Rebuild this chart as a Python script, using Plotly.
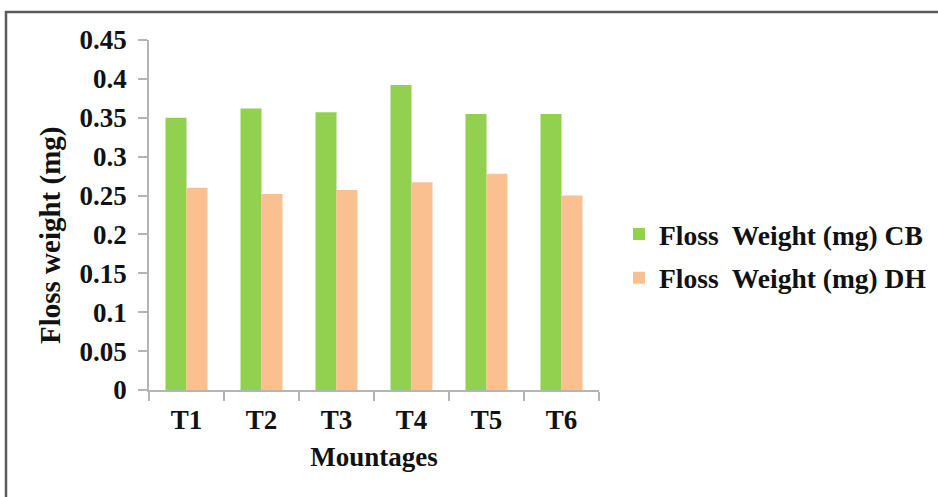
import plotly.graph_objects as go

# Mountage treatments and mean floss weight per treatment (mg)
mountages = ["T1", "T2", "T3", "T4", "T5", "T6"]
floss_cb = [0.350, 0.362, 0.357, 0.392, 0.355, 0.355]
floss_dh = [0.260, 0.252, 0.257, 0.267, 0.278, 0.250]
series_names = ["Floss\u00a0 Weight (mg) CB", "Floss\u00a0 Weight (mg) DH"]
y_ticks = [0, 0.05, 0.1, 0.15, 0.2, 0.25, 0.3, 0.35, 0.4, 0.45]
y_tick_text = ["0", "0.05", "0.1", "0.15", "0.2", "0.25", "0.3", "0.35", "0.4", "0.45"]

W, H = 938, 497
L, R, T, B = 149, 339, 40, 107
plot_w = W - L - R
plot_h = H - T - B


def px_x(px):
    return (px - L) / plot_w


def px_y(py):
    return (H - B - py) / plot_h


SERIF = "Liberation Serif, Times New Roman, serif"
axis_grey = "#b4b4b4"
ink = "#111111"

fig = go.Figure()
fig.add_trace(go.Bar(x=mountages, y=floss_cb, name=series_names[0],
                     marker=dict(color="#92d050", line=dict(width=0)),
                     legendgroup="cb"))
fig.add_trace(go.Bar(x=mountages, y=floss_dh, name=series_names[1],
                     marker=dict(color="#fac090", line=dict(width=0)),
                     legendgroup="dh"))

fig.update_layout(
    width=W, height=H,
    margin=dict(l=L, r=R, t=T, b=B, pad=0, autoexpand=False),
    paper_bgcolor="white", plot_bgcolor="white",
    barmode="group", bargap=0.44, bargroupgap=0,
    font=dict(family=SERIF, size=26, color=ink, weight="bold"),
    showlegend=True,
    legend=dict(x=px_x(619), xanchor="left", y=px_y(256), yanchor="middle",
                font=dict(family=SERIF, size=27.5, color=ink, weight="bold"),
                tracegroupgap=5, bgcolor="rgba(0,0,0,0)", borderwidth=0),
    xaxis=dict(
        showline=True, linecolor=axis_grey, linewidth=1.5,
        ticks="outside", tickson="boundaries", ticklen=9, tickcolor=axis_grey, tickwidth=1.5,
        tickfont=dict(family=SERIF, size=27, color=ink, weight="bold"),
        ticklabelstandoff=5,
        title=dict(text="Mountages", standoff=13,
                   font=dict(family=SERIF, size=27, color=ink, weight="bold")),
        showgrid=False, zeroline=False,
    ),
    yaxis=dict(
        range=[0, 0.45], tickvals=y_ticks, ticktext=y_tick_text,
        showline=True, linecolor=axis_grey, linewidth=1.5,
        ticks="outside", ticklen=9, tickcolor=axis_grey, tickwidth=1.5,
        tickfont=dict(family=SERIF, size=27, color=ink, weight="bold"),
        ticklabelstandoff=6,
        showgrid=False, zeroline=False,
    ),
    annotations=[dict(
        text="Floss weight (mg)", textangle=-90,
        xref="paper", yref="paper", x=px_x(50), y=px_y(236),
        xanchor="center", yanchor="middle", showarrow=False,
        font=dict(family=SERIF, size=29, color=ink, weight="bold"),
    )],
    shapes=[dict(
        type="rect", xref="paper", yref="paper",
        x0=px_x(6), x1=px_x(948), y0=px_y(510), y1=px_y(12),
        line=dict(color="#5a5a5a", width=2.5), fillcolor="rgba(0,0,0,0)", layer="below",
    )],
)

fig.write_html("out.html")
